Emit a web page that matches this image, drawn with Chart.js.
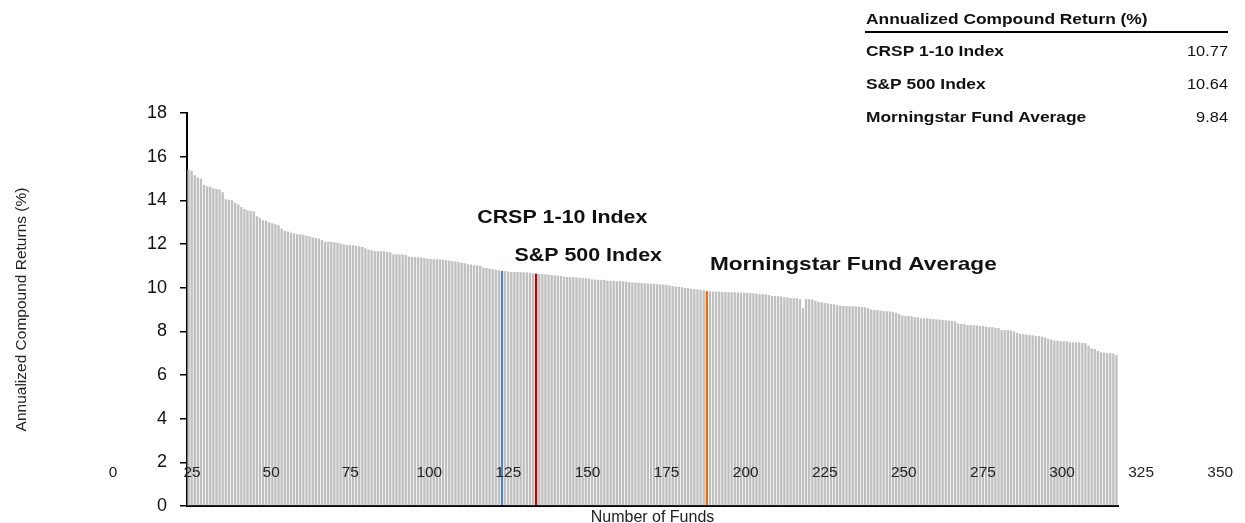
<!DOCTYPE html>
<html>
<head>
<meta charset="utf-8">
<script src="https://cdn.jsdelivr.net/npm/chart.js@4.4.1/dist/chart.umd.min.js"></script>
<style>
  body { margin: 0; background: #fff; }
</style>
</head>
<body>
<canvas id="fundChart" width="1245" height="523"></canvas>
<script>
// Annualized compound returns of each fund, sorted high to low (benchmarks included)
const fundReturns = [
  15.4, 15.35, 15.15, 15.05, 15.0, 14.7, 14.65, 14.62, 14.55, 14.52,
  14.5, 14.37, 14.05, 14.03, 14.0, 13.88, 13.82, 13.7, 13.6, 13.55,
  13.52, 13.5, 13.27, 13.2, 13.09, 13.07, 12.98, 12.95, 12.91, 12.86,
  12.7, 12.6, 12.57, 12.51, 12.48, 12.45, 12.45, 12.42, 12.38, 12.35,
  12.3, 12.27, 12.25, 12.18, 12.1, 12.1, 12.1, 12.08, 12.06, 12.02,
  11.98, 11.95, 11.94, 11.94, 11.92, 11.9, 11.86, 11.8, 11.75, 11.72,
  11.67, 11.67, 11.67, 11.67, 11.64, 11.62, 11.53, 11.53, 11.52, 11.52,
  11.5, 11.42, 11.4, 11.4, 11.39, 11.38, 11.36, 11.33, 11.32, 11.3,
  11.3, 11.29, 11.28, 11.26, 11.24, 11.21, 11.2, 11.18, 11.14, 11.12,
  11.07, 11.06, 11.03, 11.02, 11.0, 10.92, 10.9, 10.88, 10.85, 10.82,
  10.8, 10.77, 10.76, 10.74, 10.72, 10.72, 10.71, 10.71, 10.7, 10.7,
  10.68, 10.66, 10.64, 10.63, 10.62, 10.61, 10.6, 10.58, 10.56, 10.55,
  10.54, 10.5, 10.49, 10.49, 10.48, 10.47, 10.45, 10.44, 10.43, 10.42,
  10.38, 10.37, 10.36, 10.36, 10.35, 10.32, 10.31, 10.31, 10.3, 10.3,
  10.29, 10.28, 10.25, 10.24, 10.23, 10.22, 10.21, 10.2, 10.19, 10.18,
  10.17, 10.16, 10.15, 10.14, 10.13, 10.1, 10.07, 10.05, 10.04, 10.02,
  9.99, 9.98, 9.95, 9.93, 9.92, 9.9, 9.88, 9.84, 9.83, 9.83,
  9.82, 9.82, 9.81, 9.8, 9.8, 9.79, 9.79, 9.78, 9.78, 9.77,
  9.76, 9.75, 9.74, 9.73, 9.71, 9.7, 9.69, 9.66, 9.62, 9.61,
  9.61, 9.6, 9.56, 9.55, 9.52, 9.52, 9.52, 9.47, 9.06, 9.47,
  9.47, 9.45, 9.4, 9.34, 9.33, 9.29, 9.28, 9.25, 9.24, 9.2,
  9.17, 9.16, 9.15, 9.15, 9.15, 9.14, 9.13, 9.11, 9.1, 9.06,
  9.0, 8.97, 8.97, 8.94, 8.92, 8.92, 8.91, 8.88, 8.85, 8.79,
  8.72, 8.7, 8.7, 8.69, 8.65, 8.64, 8.6, 8.6, 8.59, 8.57,
  8.56, 8.55, 8.53, 8.51, 8.51, 8.5, 8.47, 8.45, 8.36, 8.34,
  8.33, 8.29, 8.28, 8.28, 8.27, 8.24, 8.24, 8.22, 8.19, 8.19,
  8.16, 8.15, 8.06, 8.05, 8.05, 8.04, 7.99, 7.93, 7.88, 7.87,
  7.86, 7.83, 7.82, 7.78, 7.78, 7.76, 7.72, 7.66, 7.62, 7.58,
  7.57, 7.55, 7.55, 7.54, 7.5, 7.5, 7.5, 7.49, 7.46, 7.46,
  7.35, 7.22, 7.19, 7.1, 7.04, 7.03, 7.0, 7.0, 6.98, 6.91
];

// benchmarks: name, return, and where they sit in the sorted list
const benchmarkNames = ['CRSP 1-10 Index', 'S&P 500 Index', 'Morningstar Fund Average'];
const benchmarkReturns = [10.77, 10.64, 9.84];
const benchmarkPos = [101, 112, 167];

const fundTicks = [0, 25, 50, 75, 100, 125, 150, 175, 200, 225, 250, 275, 300, 325, 350];
const yTicks = [0, 2, 4, 6, 8, 10, 12, 14, 16, 18];

const FONT = '"Liberation Sans", Arial, Helvetica, sans-serif';
const benchColors = ['#4f81bd', '#c00000', '#e46c0a'];

const labels = fundReturns.map((v, i) => i + 1);
const barColors = fundReturns.map((v, i) => {
  const k = benchmarkPos.indexOf(i);
  return k >= 0 ? benchColors[k] : '#bfbfbf';
});

// the source picture is a bit wide, so text is stretched sideways a little
function wideText(ctx, str, x, y, sx) {
  ctx.save();
  ctx.translate(x, y);
  ctx.scale(sx, 1);
  ctx.fillText(str, 0, 0);
  ctx.restore();
}

// text that Excel put on the chart: odd fund-count axis, callouts, and the little table
const overlay = {
  id: 'overlay',
  afterDatasetsDraw(chart) {
    const { ctx, scales: { x, y, xf } } = chart;
    ctx.save();

    // "Number of Funds" tick labels, floating at about y = 1.5
    ctx.fillStyle = '#222';
    ctx.font = '14px ' + FONT;
    ctx.textAlign = 'center';
    ctx.textBaseline = 'middle';
    const ly = y.getPixelForValue(1.5);
    fundTicks.forEach(t => wideText(ctx, String(t), xf.getPixelForValue(t), ly, 1.1));

    // callouts above the bars
    const callouts = [
      { at: 93, v: 13.2, size: 18 },
      { at: 105, v: 11.47, size: 18 },
      { at: 168, v: 11.06, size: 19 }
    ];
    ctx.fillStyle = '#111';
    ctx.textAlign = 'left';
    callouts.forEach((c, k) => {
      ctx.font = 'bold ' + c.size + 'px ' + FONT;
      wideText(ctx, benchmarkNames[k], x.getPixelForValue(c.at), y.getPixelForValue(c.v), 1.19);
    });

    // table top right
    const tl = 866, tr = 1228;
    ctx.font = 'bold 14px ' + FONT;
    wideText(ctx, 'Annualized Compound Return (%)', tl, 20, 1.24);
    ctx.strokeStyle = '#000';
    ctx.lineWidth = 2;
    ctx.beginPath();
    ctx.moveTo(tl - 1, 32);
    ctx.lineTo(tr, 32);
    ctx.stroke();
    benchmarkNames.forEach((name, k) => {
      const ry = 52 + k * 33;
      ctx.textAlign = 'left';
      ctx.font = 'bold 14px ' + FONT;
      wideText(ctx, name, tl, ry, 1.24);
      ctx.textAlign = 'right';
      ctx.font = '14px ' + FONT;
      wideText(ctx, benchmarkReturns[k].toFixed(2), tr, ry, 1.17);
    });
    ctx.restore();
  }
};

new Chart(document.getElementById('fundChart'), {
  type: 'bar',
  data: {
    labels: labels,
    datasets: [{
      data: fundReturns,
      backgroundColor: barColors,
      borderWidth: 0,
      barPercentage: 0.75,
      categoryPercentage: 1.0
    }]
  },
  options: {
    responsive: false,
    animation: false,
    layout: {
      padding: { top: 113, right: 127, left: 0, bottom: 0 }
    },
    plugins: {
      legend: { display: false },
      tooltip: { enabled: false }
    },
    scales: {
      x: {
        grid: { display: false },
        ticks: { display: false },
        border: { display: true, color: '#000', width: 2 },
        title: {
          display: true,
          text: 'Number of Funds',
          color: '#222',
          font: { family: FONT, size: 16 },
          padding: { top: 0, bottom: -4 }
        },
        afterFit: s => { s.height = 17; }
      },
      // fund-count scale used only to place the floating 0..350 labels
      xf: {
        type: 'linear',
        display: false,
        offset: false,
        min: 23.4,
        max: 317.7
      },
      y: {
        min: 0,
        max: 18,
        afterBuildTicks: s => { s.ticks = yTicks.map(v => ({ value: v })); },
        grid: {
          drawOnChartArea: false,
          drawTicks: true,
          tickLength: 7,
          tickColor: '#000',
          lineWidth: 1.5
        },
        border: { display: true, color: '#000', width: 2 },
        ticks: {
          color: '#111',
          padding: 13,
          font: { family: FONT, size: 18 }
        },
        title: {
          display: true,
          text: 'Annualized Compound Returns (%)',
          color: '#222',
          font: { family: FONT, size: 15.5 },
          padding: { top: 12, bottom: 0 }
        },
        afterFit: s => {
          s.width = 187;
          // tick padding would otherwise push the plot bottom up
          s.paddingTop = 0;
          s.paddingBottom = 0;
        }
      }
    }
  },
  plugins: [overlay]
});
</script>
</body>
</html>
